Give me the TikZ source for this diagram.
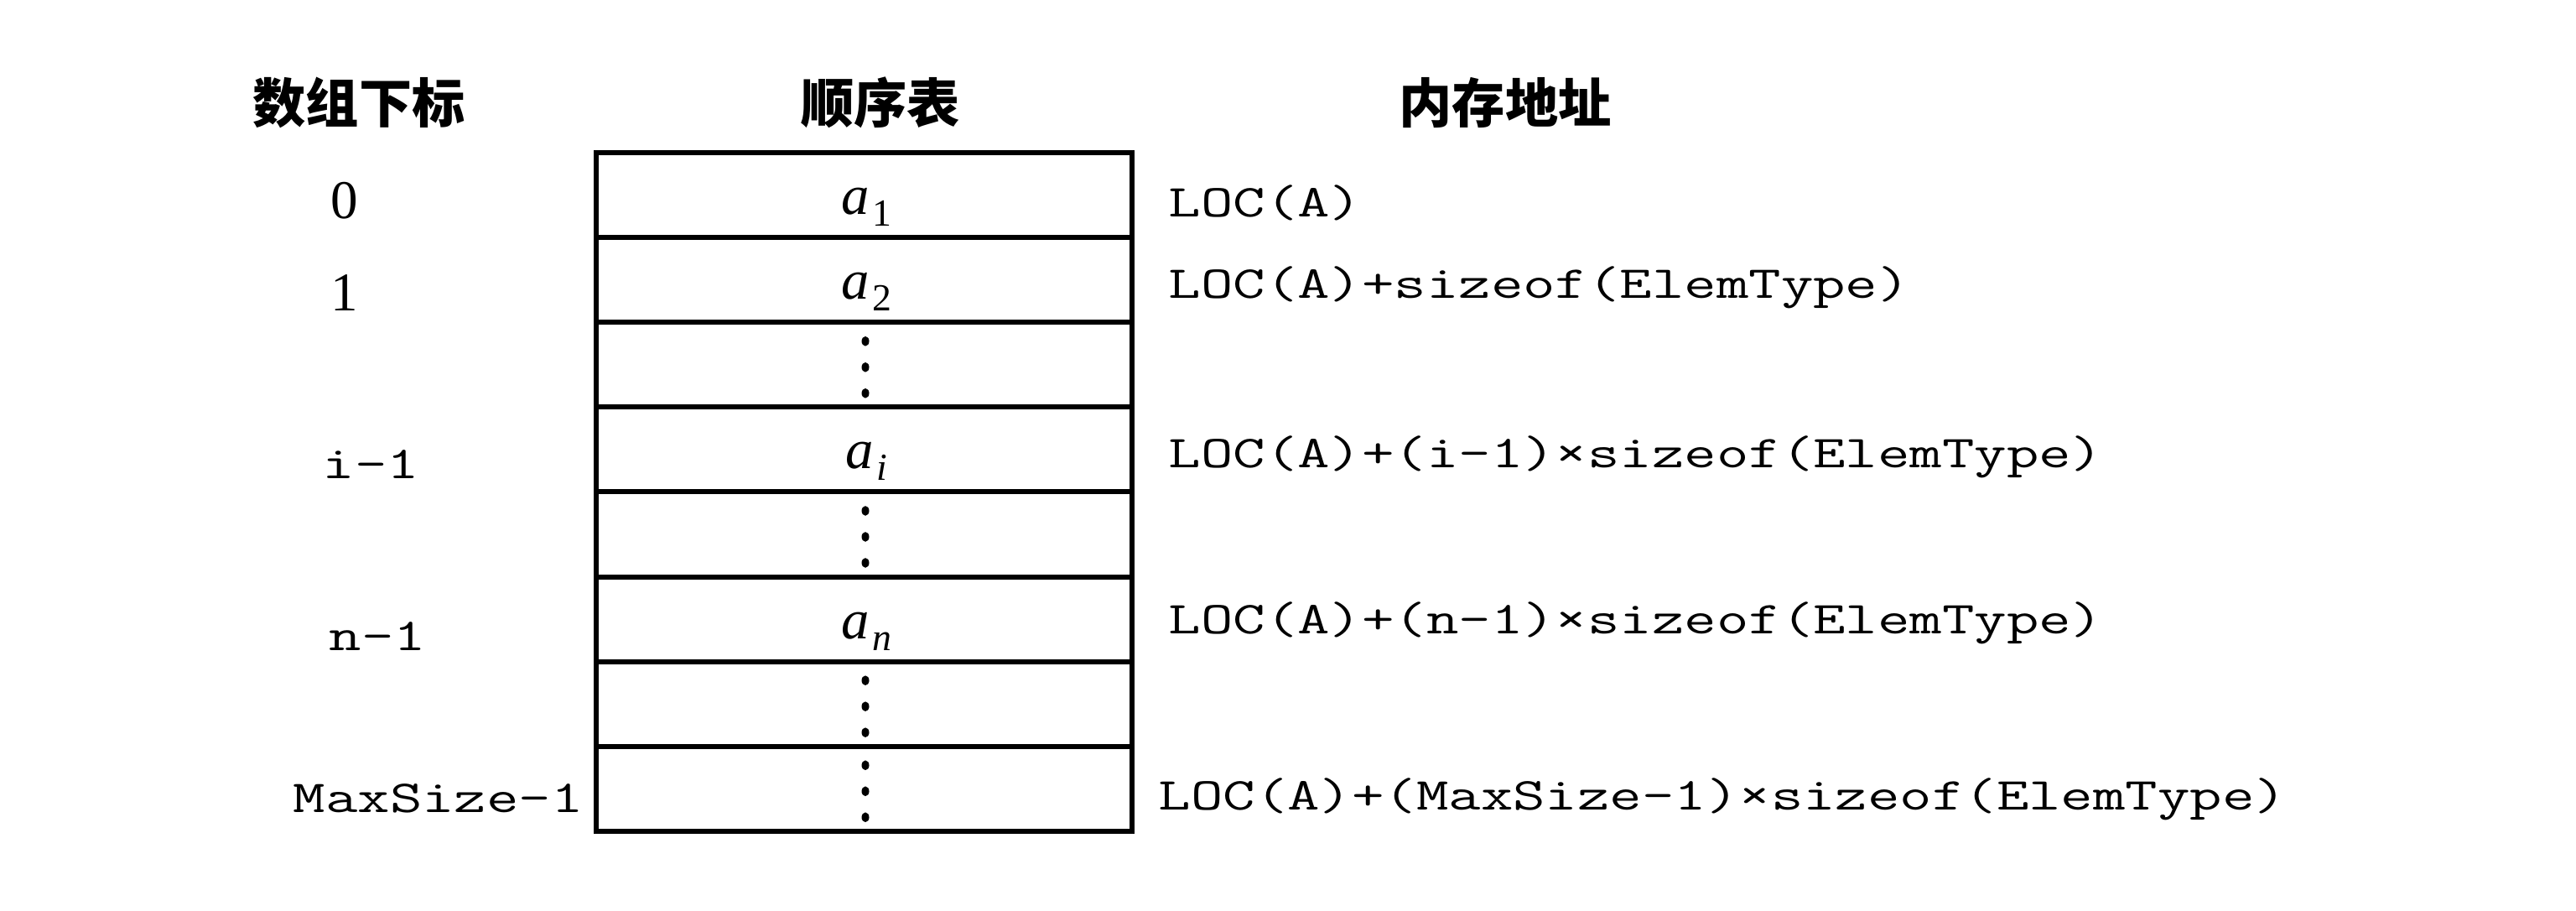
\documentclass[tikz,border=0pt]{standalone}
\usepackage{fontspec}
\setmainfont{Liberation Serif}
\newfontfamily\cjk{Noto Sans CJK SC}
\newcommand{\mtxt}[1]{{\ttfamily\fontsize{15.5pt}{18pt}\selectfont\scalebox{1.37}[1]{#1}}}
\newcommand{\elem}[2]{{\fontsize{19pt}{21pt}\selectfont\itshape a}\hspace{0.03cm}\raisebox{-0.14cm}{\fontsize{13pt}{15pt}\selectfont #2}}
\tikzset{
  cell/.style={draw, line width=1.7pt, minimum width=6.39cm, minimum height=1.011cm, inner sep=0pt, outer sep=0pt},
  hdr/.style={font=\cjk\bfseries\fontsize{18pt}{20pt}\selectfont, inner sep=0pt},
  idx/.style={inner sep=0pt, anchor=base west},
  num/.style={inner sep=0pt, anchor=base, font=\fontsize{18.5pt}{20pt}\selectfont},
  addr/.style={inner sep=0pt, anchor=base west},
  elt/.style={inner sep=0pt, anchor=base},
  dotmark/.style={fill=black}
}
\begin{document}
\begin{tikzpicture}
\useasboundingbox[fill=white] (0,0) rectangle (30.72,-10.85);
% headers
\node[hdr] (h1) at (4.28,-1.22) {数组下标};
\node[hdr] (h2) at (10.50,-1.22) {顺序表};
\node[hdr] (h3) at (17.95,-1.22) {内存地址};
% table rows
\foreach \k in {1,...,8}
  \node[cell] (r\k) at (10.305,{-1.82-1.011*(\k-0.5)}) {};
% elements
\node[elt] (e1) at ([xshift=0.03cm,yshift=-0.23cm]r1.center) {\elem{a}{1}};
\node[elt] (e2) at ([xshift=0.03cm,yshift=-0.23cm]r2.center) {\elem{a}{2}};
\node[elt] (e4) at ([xshift=0.03cm,yshift=-0.23cm]r4.center) {\elem{a}{\itshape i}};
\node[elt] (e6) at ([xshift=0.03cm,yshift=-0.23cm]r6.center) {\elem{a}{\itshape n}};
% vertical dots
\foreach \k in {3,5,7,8}
  \foreach \d in {0.31,0,-0.31}
    \fill[dotmark] ([xshift=0.015cm,yshift={(\d-0.03)*1cm}]r\k.center) ellipse (0.045 and 0.058);
% indices
\node[num] (i0) at (4.11,-2.60) {0};
\node[num] (i1) at (4.11,-3.70) {1};
\node[idx] (ii) at (3.84,-5.70) {\mtxt{i-1}};
\node[idx] (in) at (3.92,-7.75) {\mtxt{n-1}};
\node[idx] (im) at (3.49,-9.68) {\mtxt{MaxSize-1}};
% addresses
\node[addr] (l1) at (13.93,-2.58) {\mtxt{LOC(A)}};
\node[addr] (l2) at (13.93,-3.55) {\mtxt{LOC(A)+sizeof(ElemType)}};
\node[addr] (l4) at (13.93,-5.57) {\mtxt{LOC(A)+(i-1)×sizeof(ElemType)}};
\node[addr] (l6) at (13.93,-7.55) {\mtxt{LOC(A)+(n-1)×sizeof(ElemType)}};
\node[addr] (l8) at (13.81,-9.65) {\mtxt{LOC(A)+(MaxSize-1)×sizeof(ElemType)}};
\end{tikzpicture}
\end{document}
